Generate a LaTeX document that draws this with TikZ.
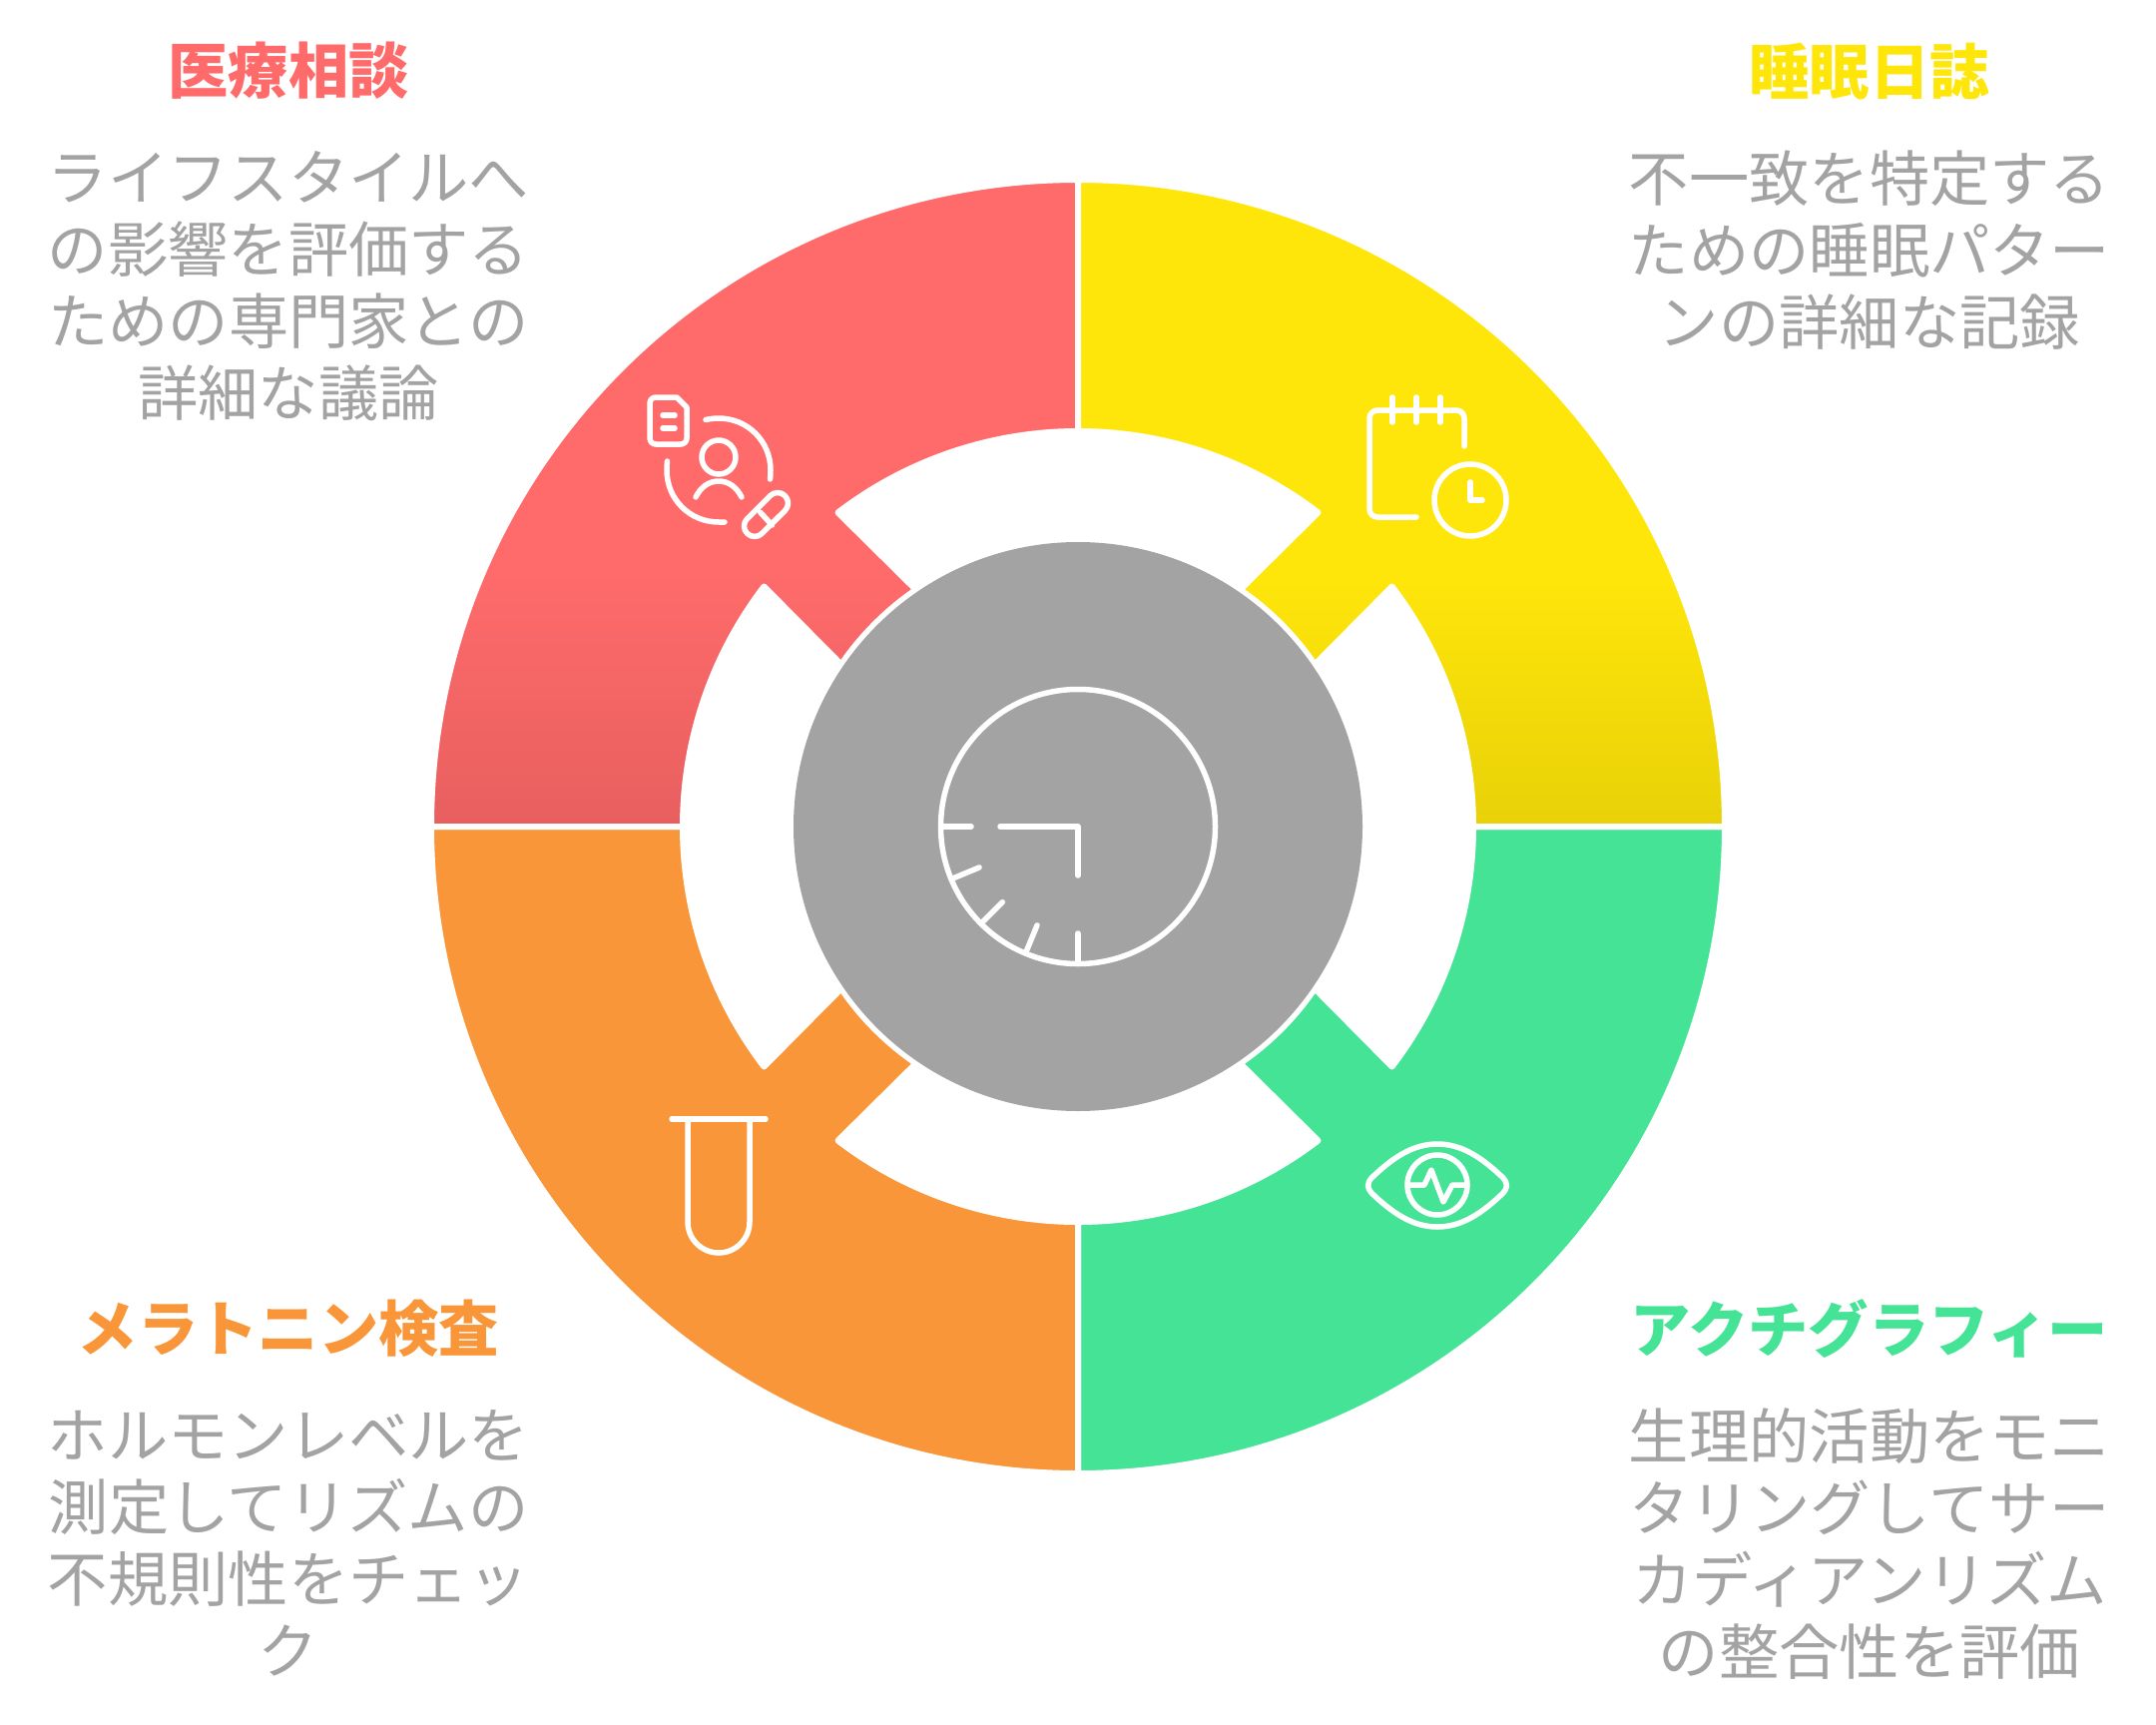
\documentclass[tikz,border=0pt]{standalone}
\usepackage{fontspec}
\setmainfont{Noto Sans CJK JP}
\definecolor{cred}{HTML}{FF6B6B}
\definecolor{credd}{HTML}{E85F5F}
\definecolor{cyel}{HTML}{FFE60A}
\definecolor{cyeld}{HTML}{E8D108}
\definecolor{cgrn}{HTML}{45E396}
\definecolor{corg}{HTML}{F99639}
\definecolor{cgry}{HTML}{A3A3A3}
\newcommand{\sectorpath}[1]{(#1+180:648) arc[start angle=#1+180,end angle=#1+270,radius=648]
  -- (#1+270:396) arc[start angle=#1+270,end angle=#1+232.6,radius=396]
  -- (#1+235.6:287.5) arc[start angle=#1+235.6,end angle=#1+214.4,radius=287.5]
  -- (#1+217.4:396) arc[start angle=#1+217.4,end angle=#1+180,radius=396] -- cycle}
\tikzset{
  sector/.style={draw=white,line width=6pt,line join=round},
  icon/.style={draw=white,line width=5.5pt,line cap=round,line join=round},
  title/.style={font=\fontsize{60.3}{72}\selectfont\bfseries,align=center,inner sep=0pt},
  body/.style={font=\fontsize{60.3}{72}\selectfont,text=cgry,align=center,inner sep=0pt},
}
\begin{document}
\begin{tikzpicture}[x=1pt,y=1pt,yscale=-1]
\useasboundingbox (0,0) rectangle (2160,1728);
\fill[white] (0,0) rectangle (2160,1728);
% sectors
\begin{scope}[shift={(1080,828)}]
  \fill[cgrn] \sectorpath{180};
  \draw[sector] \sectorpath{180};
  \fill[corg] \sectorpath{270};
  \draw[sector] \sectorpath{270};
  \begin{scope}
    \clip \sectorpath{0};
    \fill[cred] (-700,-700) rectangle (0,-250);
    \shade[top color=cred,bottom color=credd] (-700,-258) rectangle (0,0);
  \end{scope}
  \draw[sector] \sectorpath{0};
  \begin{scope}
    \clip \sectorpath{90};
    \fill[cyel] (0,-700) rectangle (700,-250);
    \shade[top color=cyel,bottom color=cyeld] (0,-258) rectangle (700,0);
  \end{scope}
  \draw[sector] \sectorpath{90};
  \fill[cgry] (0,0) circle[radius=285];
  % central clock icon
  \draw[icon] (0,0) circle[radius=137.5];
  \draw[icon] (0,49) -- (0,0) -- (-78,0);
  \foreach \a in {90,112.5,135,157.5,180}
    \draw[icon] (\a:107) -- (\a:137);
\end{scope}
% medical icon
\draw[icon] (651,404) arc[start angle=180,end angle=270,radius=6] -- (678,398) -- (688,408) -- (688,439) arc[start angle=0,end angle=90,radius=6] -- (657,445) arc[start angle=90,end angle=180,radius=6] -- cycle;
\draw[icon] (664,416) -- (676,416) (664,429) -- (676,429);
\draw[icon] (720,458) circle[radius=17];
\draw[icon] (697,498) .. controls (702,488) and (710,482) .. (720,482) .. controls (730,482) and (738,488) .. (743,498);
\draw[icon] (707,420.5) .. controls (711,419.5) and (716,419) .. (720,419) .. controls (749,419) and (772,442) .. (772,471) .. controls (772,474) and (772,477) .. (771.5,480);
\draw[icon] (668.5,462) .. controls (668.2,465) and (668,468) .. (668,471) .. controls (668,500) and (691,523) .. (720,523) -- (726,523);
\draw[icon] (748.6,519.6) -- (771.6,496.6) arc[start angle=225,end angle=405,radius=10.5] -- (763.4,534.4) arc[start angle=45,end angle=225,radius=10.5] -- cycle;
\draw[icon] (761.7,513.3) -- (773.5,526);
% notebook icon
\draw[icon] (1419,518) -- (1380,518) arc[start angle=90,end angle=180,radius=8] -- (1372,419) arc[start angle=180,end angle=270,radius=8] -- (1459,411) arc[start angle=270,end angle=360,radius=8] -- (1467,447);
\draw[icon] (1395,398) -- (1395,423) (1419,398) -- (1419,423) (1443,398) -- (1443,423);
\draw[icon] (1473,501) circle[radius=36];
\draw[icon] (1473,483) -- (1473,501) -- (1485,501);
% eye icon
\draw[icon] (1374,1180) .. controls (1395,1160) and (1415,1146) .. (1440,1146) .. controls (1465,1146) and (1485,1160) .. (1506,1180) .. controls (1510.5,1185) and (1510.5,1190) .. (1506,1195) .. controls (1485,1215) and (1465,1229) .. (1440,1229) .. controls (1415,1229) and (1395,1215) .. (1374,1195) .. controls (1369.5,1190) and (1369.5,1185) .. cycle;
\draw[icon] (1440,1187) circle[radius=30];
\draw[icon] (1410,1187) -- (1427,1187) -- (1434,1172) -- (1446,1204) -- (1455,1187) -- (1470,1187);
% tube icon
\draw[icon] (673,1121) -- (767,1121);
\draw[icon] (689,1121) -- (689,1224) arc[start angle=180,end angle=0,radius=31] -- (751,1121);
% labels
\node[title,text=cred] (t1) at (289,71) {医療相談};
\node[body] (b1) at (289,287) {ライフスタイルへ\\の影響を評価する\\ための専門家との\\詳細な議論};
\node[title,text=cyel] (t2) at (1873,71) {睡眠日誌};
\node[body] (b2) at (1873,250.5) {不一致を特定する\\ための睡眠パター\\ンの詳細な記録};
\node[title,text=corg] (t3) at (289,1331) {メラトニン検査};
\node[body] (b3) at (289,1546) {ホルモンレベルを\\測定してリズムの\\不規則性をチェッ\\ク};
\node[title,text=cgrn] (t4) at (1873,1331) {アクチグラフィー};
\node[body] (b4) at (1873,1546) {生理的活動をモニ\\タリングしてサー\\カディアンリズム\\の整合性を評価};
\end{tikzpicture}
\end{document}
